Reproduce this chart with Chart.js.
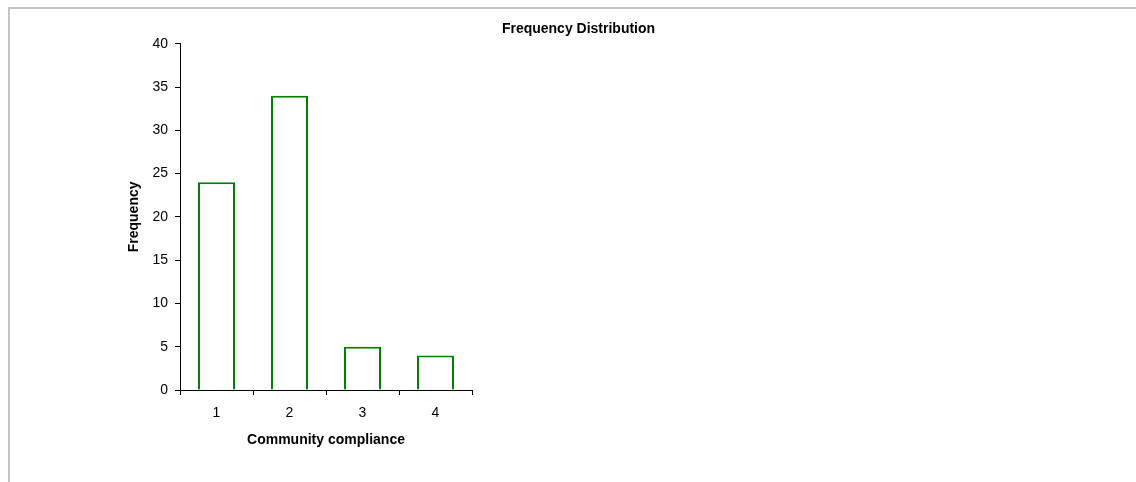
<!DOCTYPE html>
<html>
<head>
<meta charset="utf-8">
<script src="https://cdn.jsdelivr.net/npm/chart.js@4/dist/chart.umd.min.js"></script>
<style>
  html, body { margin: 0; padding: 0; background: #fff; overflow: hidden; }
  #frame { position: absolute; left: 8px; top: 7px; width: 1200px; height: 600px;
           border-top: 2px solid #c4c4c4; border-left: 2px solid #c4c4c4; }
  #wrap { position: absolute; left: 0; top: 0; width: 1136px; height: 482px; }
</style>
</head>
<body>
<div id="frame"></div>
<div id="wrap"><canvas id="c"></canvas></div>
<script>
const categories = ['1', '2', '3', '4'];
const frequency = [24, 34, 5, 4];
const yTicks = { min: 0, max: 40, step: 5 };
const chartTitle = 'Frequency Distribution';
const xTitle = 'Community compliance';
const yTitle = 'Frequency';

const FONT = "'Liberation Sans', Arial, sans-serif";

new Chart(document.getElementById('c'), {
  type: 'bar',
  data: {
    labels: categories,
    datasets: [{
      data: frequency,
      backgroundColor: '#ffffff',
      borderColor: '#008000',
      borderWidth: 2,
      categoryPercentage: 1.0,
      barPercentage: 0.507
    }]
  },
  options: {
    responsive: true,
    maintainAspectRatio: false,
    animation: false,
    events: [],
    layout: { padding: { left: 21, right: 0, top: 0, bottom: 33 } },
    plugins: {
      legend: { display: false },
      tooltip: { enabled: false },
      title: {
        display: true,
        text: chartTitle,
        color: '#000',
        font: { family: FONT, size: 14, weight: 'bold' },
        padding: { top: 21, bottom: 6 }
      }
    },
    scales: {
      x: {
        offset: true,
        grid: { display: true, drawOnChartArea: false, drawTicks: true, tickLength: 5, color: '#000', lineWidth: 1, offset: true },
        border: { display: true, color: '#000', width: 1 },
        ticks: { color: '#000', font: { family: FONT, size: 14 }, padding: 10, maxRotation: 0 },
        title: { display: true, text: xTitle, color: '#000', font: { family: FONT, size: 14, weight: 'bold' }, padding: { top: 0, bottom: 0 } },
        afterFit: s => { s.height = 59; }
      },
      y: {
        position: 'left',
        min: yTicks.min,
        max: yTicks.max,
        grid: { display: true, drawOnChartArea: false, drawTicks: true, tickLength: 5, color: '#000', lineWidth: 1 },
        border: { display: true, color: '#000', width: 1 },
        ticks: { stepSize: yTicks.step, color: '#000', font: { family: FONT, size: 14 }, padding: 7 },
        title: { display: true, text: yTitle, color: '#000', font: { family: FONT, size: 14, weight: 'bold' }, padding: { top: 105, bottom: 0 } },
        afterFit: s => { s.width = 159; }
      },
      spacer: {
        type: 'linear',
        position: 'right',
        display: true,
        grid: { display: false, drawTicks: false },
        border: { display: false },
        ticks: { display: false },
        afterFit: s => { s.width = 664; }
      }
    }
  }
});
</script>
</body>
</html>
